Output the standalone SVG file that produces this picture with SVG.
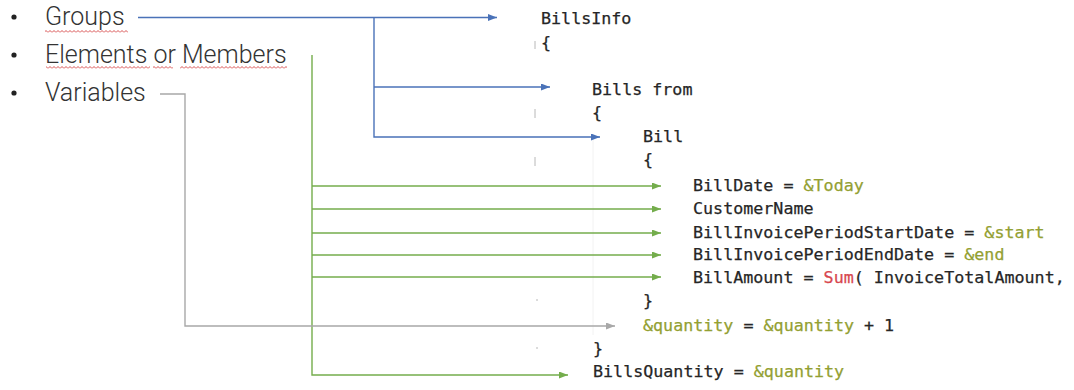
<svg xmlns="http://www.w3.org/2000/svg" width="1074" height="390" viewBox="0 0 1074 390">
<style>
.bul{font-family:Roboto,"Liberation Sans",sans-serif;font-weight:300;font-size:25px;fill:#333333}
.code{font-family:"DejaVu Sans Mono","Liberation Mono",monospace;font-size:16.7px;fill:#262626;stroke:#262626;stroke-width:0.25}
.var{fill:#93a032;stroke:#93a032}
.fn{fill:#d8474f;stroke:#d8474f}
.blue{stroke:#4a72b8;stroke-width:1.4;fill:none}
.green{stroke:#74ad4c;stroke-width:1.4;fill:none}
.gray{stroke:#a8a8a8;stroke-width:1.4;fill:none}
.tick{stroke:#b8b8b8;stroke-width:1}
.guide{stroke:#f2f2f2;stroke-width:1}
</style>
<defs>
<marker id="ab" markerUnits="userSpaceOnUse" markerWidth="9" markerHeight="7" refX="9" refY="3.5" orient="auto"><path d="M0,0 L9,3.5 L0,7 z" fill="#4a72b8"/></marker>
<marker id="ag" markerUnits="userSpaceOnUse" markerWidth="9" markerHeight="7" refX="9" refY="3.5" orient="auto"><path d="M0,0 L9,3.5 L0,7 z" fill="#74ad4c"/></marker>
<marker id="ay" markerUnits="userSpaceOnUse" markerWidth="9" markerHeight="7" refX="9" refY="3.5" orient="auto"><path d="M0,0 L9,3.5 L0,7 z" fill="#a8a8a8"/></marker>
<pattern id="wave" width="4" height="3" patternUnits="userSpaceOnUse"><path d="M0,2.5 L2,0.5 L4,2.5" stroke="#d85050" stroke-width="1" fill="none"/></pattern>
</defs>
<rect width="1074" height="390" fill="#ffffff"/>
<line class="guide" x1="593" y1="140" x2="593" y2="335"/>
<g id="groups">
<circle cx="14" cy="17" r="2.6" fill="#222"/>
<text class="bul" x="45" y="25">Groups</text>
<rect x="45" y="30" width="83" height="3" fill="url(#wave)"/>
</g>
<g id="elements">
<circle cx="14" cy="55" r="2.6" fill="#222"/>
<text class="bul" x="45" y="63">Elements or Members</text>
<rect x="46" y="66" width="104" height="3" fill="url(#wave)"/>
<rect x="153" y="66" width="20" height="3" fill="url(#wave)"/>
<rect x="180" y="66" width="107" height="3" fill="url(#wave)"/>
</g>
<g id="variables">
<circle cx="14" cy="93" r="2.6" fill="#222"/>
<text class="bul" x="45" y="101">Variables</text>
</g>
<g id="code">
<text class="code" x="541" y="24">BillsInfo</text>
<text class="code" x="541" y="48">{</text>
<text class="code" x="592" y="95">Bills from</text>
<text class="code" x="592" y="118">{</text>
<text class="code" x="643" y="142">Bill</text>
<text class="code" x="643" y="165">{</text>
<text class="code" x="693" y="191">BillDate = <tspan class="var">&amp;Today</tspan></text>
<text class="code" x="693" y="214">CustomerName</text>
<text class="code" x="693" y="238">BillInvoicePeriodStartDate = <tspan class="var">&amp;start</tspan></text>
<text class="code" x="693" y="260">BillInvoicePeriodEndDate = <tspan class="var">&amp;end</tspan></text>
<text class="code" x="693" y="283">BillAmount = <tspan class="fn">Sum</tspan>( InvoiceTotalAmount,</text>
<text class="code" x="643" y="306">}</text>
<text class="code" x="643" y="331"><tspan class="var">&amp;quantity</tspan> = <tspan class="var">&amp;quantity</tspan> + 1</text>
<text class="code" x="593" y="354">}</text>
<text class="code" x="593" y="377">BillsQuantity = <tspan class="var">&amp;quantity</tspan></text>
<line class="tick" x1="535" y1="41" x2="535" y2="49"/>
<line class="tick" x1="535" y1="109" x2="535" y2="118"/>
<line class="tick" x1="535" y1="157" x2="535" y2="166"/>
<line class="tick" x1="537" y1="299" x2="537" y2="301"/>
<line class="tick" x1="537" y1="347" x2="537" y2="349"/>
</g>
<g id="connectors">
<path class="blue" d="M138,17.5 H497" marker-end="url(#ab)"/>
<path class="blue" d="M374,17.5 V137 H600" marker-end="url(#ab)"/>
<path class="blue" d="M374,87 H550" marker-end="url(#ab)"/>
<path class="green" d="M312,55 V375 H568" marker-end="url(#ag)"/>
<path class="green" d="M312,186 H661" marker-end="url(#ag)"/>
<path class="green" d="M312,209 H661" marker-end="url(#ag)"/>
<path class="green" d="M312,233 H661" marker-end="url(#ag)"/>
<path class="green" d="M312,255 H661" marker-end="url(#ag)"/>
<path class="green" d="M312,277 H661" marker-end="url(#ag)"/>
<path class="gray" d="M160,94 H185 V326 H615" marker-end="url(#ay)"/>
</g>
</svg>
